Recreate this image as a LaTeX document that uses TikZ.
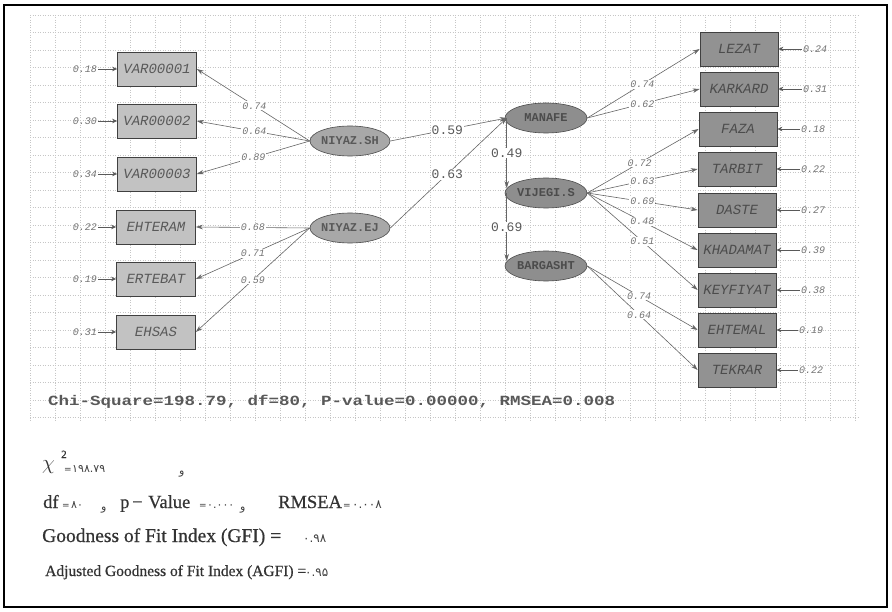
\documentclass[tikz,border=0pt]{standalone}
\usepackage{fontspec}
\setmainfont{Liberation Serif}
\newfontfamily\bserif[FakeBold=0.6]{Liberation Serif}
\newfontfamily\lmono{Liberation Mono}
\newfontfamily\fadig{DejaVu Sans}
\usetikzlibrary{shapes.geometric,arrows.meta,calc}
\definecolor{lboxc}{HTML}{C2C2C2}
\definecolor{rboxc}{HTML}{929292}
\definecolor{ellc}{HTML}{A8A8A8}
\definecolor{rellc}{HTML}{8E8E8E}
\tikzset{
 gridl/.style={gray!45, line width=0.4pt, dash pattern=on 1pt off 1.5pt},
 arr/.style={draw=black!60, line width=0.6pt, -{Stealth[length=7pt,width=4.5pt]}},
 earr/.style={draw=black!65, line width=0.9pt, -{Stealth[length=5pt,width=4.5pt]}},
 lbox/.style={rectangle, draw=black!75, line width=0.7pt, fill=lboxc, minimum width=79pt, minimum height=34pt, inner sep=0pt, font=\lmono\itshape\fontsize{14}{14}\selectfont, text=black!65},
 rbox/.style={lbox, fill=rboxc, minimum width=78pt, text=black!70},
 lat/.style={ellipse, draw=black!70, line width=0.6pt, fill=ellc, minimum width=80pt, minimum height=30pt, inner xsep=-12pt, inner ysep=0pt, font=\lmono\bfseries\fontsize{12}{12}\selectfont, text=black!65},
 rlat/.style={lat, fill=rellc, minimum width=82pt, text=black!70},
 lbl/.style={font=\lmono\itshape\fontsize{10}{10}\selectfont, text=black!55, fill=white, inner sep=1pt},
 elbl/.style={font=\lmono\itshape\fontsize{10}{10}\selectfont, text=black!55, inner sep=1pt},
 slbl/.style={font=\lmono\fontsize{13}{13}\selectfont, text=black!65, fill=white, inner sep=1pt},
 btxt/.style={anchor=base west, inner sep=0pt, text=black!80, font=\bserif\fontsize{18.5}{18.5}\selectfont},
 dtxt/.style={anchor=base west, inner sep=0pt, text=black!75, font=\fadig\fontsize{11}{11}\selectfont},
 eqtxt/.style={anchor=base west, inner sep=0pt, text=black!75, font=\fadig\fontsize{9}{9}\selectfont},
}
\begin{document}
\begin{tikzpicture}[x=1pt,y=-1pt]
\useasboundingbox (0,0) rectangle (892,612);
\fill[white] (0,0) rectangle (892,612);
\draw[line width=2.5pt] (4,5) rectangle (887,607);
% grid
\foreach \x in {30,55,...,855} \draw[gridl] (\x,15) -- (\x,422);
\foreach \y in {15,32.5,...,423} \draw[gridl] (30,\y) -- (860,\y);
% left indicators
\node[lbox] (v1) at (157,69) {VAR00001};
\node[lbox] (v2) at (157,121) {VAR00002};
\node[lbox] (v3) at (157,174) {VAR00003};
\node[lbox] (v4) at (156,227) {EHTERAM};
\node[lbox] (v5) at (156,279) {ERTEBAT};
\node[lbox] (v6) at (156,332) {EHSAS};
% left errors
\node[elbl] (e1) at (85,69) {0.18};
\node[elbl] (e2) at (85,121) {0.30};
\node[elbl] (e3) at (85,174) {0.34};
\node[elbl] (e4) at (85,227) {0.22};
\node[elbl] (e5) at (85,279) {0.19};
\node[elbl] (e6) at (85,332) {0.31};
\foreach \i in {1,...,6} \draw[earr] (e\i) -- (v\i);
% right indicators
\node[rbox] (r1) at (739,49) {LEZAT};
\node[rbox] (r2) at (739,89) {KARKARD};
\node[rbox] (r3) at (738,129) {FAZA};
\node[rbox] (r4) at (737,169) {TARBIT};
\node[rbox] (r5) at (737,210) {DASTE};
\node[rbox] (r6) at (737,250) {KHADAMAT};
\node[rbox] (r7) at (737,290) {KEYFIYAT};
\node[rbox] (r8) at (737,330) {EHTEMAL};
\node[rbox] (r9) at (737,370) {TEKRAR};
% right errors
\node[elbl] (f1) at (815,49) {0.24};
\node[elbl] (f2) at (815,89) {0.31};
\node[elbl] (f3) at (813,129) {0.18};
\node[elbl] (f4) at (813,169) {0.22};
\node[elbl] (f5) at (813,210) {0.27};
\node[elbl] (f6) at (813,250) {0.39};
\node[elbl] (f7) at (813,290) {0.38};
\node[elbl] (f8) at (811,330) {0.19};
\node[elbl] (f9) at (811,370) {0.22};
\foreach \i in {1,...,9} \draw[earr] (f\i) -- (r\i);
% latent variables
\node[lat] (nsh) at (350,141) {NIYAZ.SH};
\node[lat] (nej) at (350,228) {NIYAZ.EJ};
\node[rlat] (man) at (546,118) {MANAFE};
\node[rlat] (vij) at (546,193) {VIJEGI.S};
\node[rlat] (bar) at (546,266) {BARGASHT};
% left loadings
\draw[arr] (nsh.west) -- node[lbl,pos=0.49]{0.74} (v1.east);
\draw[arr] (nsh.west) -- node[lbl,pos=0.49]{0.64} (v2.east);
\draw[arr] (nsh.west) -- node[lbl,pos=0.5]{0.89} (v3.east);
\draw[arr] (nej.west) -- node[lbl,pos=0.5]{0.68} (v4.east);
\draw[arr] (nej.west) -- node[lbl,pos=0.5]{0.71} (v5.east);
\draw[arr] (nej.west) -- node[lbl,pos=0.5]{0.59} (v6.east);
% structural
\draw[arr] (nsh.east) -- node[slbl,pos=0.49]{0.59} ([xshift=2pt]man.west);
\draw[arr] (nej.east) -- node[slbl,pos=0.49]{0.63} ([xshift=2pt]man.west);
\draw[arr] ([xshift=2pt]man.west) -- node[slbl,pos=0.5]{0.49} ($(vij.west)+(2,-5)$);
\draw[arr] ([xshift=2pt]vij.west) -- node[slbl,pos=0.5]{0.69} ($(bar.west)+(2,-5)$);
% right loadings
\draw[arr] (man.east) -- node[lbl,pos=0.49]{0.74} (r1.west);
\draw[arr] (man.east) -- node[lbl,pos=0.49]{0.62} (r2.west);
\draw[arr] (vij.east) -- node[lbl,pos=0.47]{0.72} (r3.west);
\draw[arr] (vij.east) -- node[lbl,pos=0.5]{0.63} (r4.west);
\draw[arr] (vij.east) -- node[lbl,pos=0.5]{0.69} (r5.west);
\draw[arr] (vij.east) -- node[lbl,pos=0.5]{0.48} (r6.west);
\draw[arr] (vij.east) -- node[lbl,pos=0.5]{0.51} (r7.west);
\draw[arr] (bar.east) -- node[lbl,pos=0.47]{0.74} (r8.west);
\draw[arr] (bar.east) -- node[lbl,pos=0.47]{0.64} (r9.west);
% chi-square line
\node[anchor=base west, inner sep=0pt, text=black!65] (chi) at (48,406) {\scalebox{1.25}[1]{\lmono\bfseries\fontsize{14}{14}\selectfont Chi-Square=198.79, df=80, P-value=0.00000, RMSEA=0.008}};
% bottom statistics: line 1
\node[btxt, font=\fontsize{21}{21}\selectfont] (a1) at (42,469) {$\chi$};
\node[btxt, font=\bserif\fontsize{11}{11}\selectfont] (a2) at (61,458) {2};
\node[eqtxt] (a3) at (64,472) {=};
\node[dtxt] (a4) at (72,472) {۱۹۸.۷۹};
\node[dtxt] (a5) at (179,474) {و};
% line 2
\node[btxt] (b1) at (43,508) {df};
\node[eqtxt] (b2) at (62,508) {=};
\node[dtxt] (b3) at (71,508) {۸۰};
\node[dtxt] (b4) at (101,510) {و};
\node[btxt] (b5) at (120,508) {p};
\node[btxt] (b6) at (132,508) {−};
\node[btxt] (b7) at (148,508) {Value};
\node[eqtxt] (b8) at (199,508) {=};
\node[dtxt] (b9) at (207,508) {۰.۰۰۰};
\node[dtxt] (b10) at (240,510) {و};
\node[btxt] (b11) at (278,508) {RMSEA};
\node[eqtxt] (b12) at (343,508) {=};
\node[dtxt, font=\fadig\fontsize{12}{12}\selectfont] (b13) at (352,508) {۰.۰۰۸};
% line 3
\node[btxt, font=\bserif\fontsize{19.5}{19.5}\selectfont] (c1) at (42,542) {Goodness of Fit Index (GFI) =};
\node[dtxt, font=\fadig\fontsize{12}{12}\selectfont] (c2) at (303,542) {۰.۹۸};
% line 4
\node[btxt, font=\bserif\fontsize{15.5}{15.5}\selectfont] (d1) at (45,576) {Adjusted Goodness of Fit Index (AGFI) =};
\node[dtxt, font=\fadig\fontsize{12}{12}\selectfont] (d2) at (305,576) {۰.۹۵};
\end{tikzpicture}
\end{document}
